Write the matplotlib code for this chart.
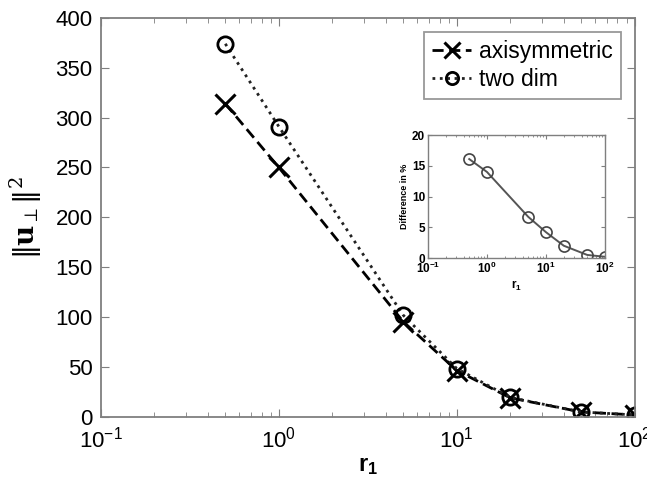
import matplotlib
matplotlib.use("Agg")
import matplotlib.pyplot as plt
from matplotlib.ticker import LogLocator, NullFormatter

plt.rcParams['font.family'] = ['Liberation Sans', 'DejaVu Sans']
plt.rcParams['mathtext.fontset'] = 'dejavuserif'

# Data
r1 = [0.5, 1, 5, 10, 20, 50, 100]
axisymmetric = [314, 250, 95.5, 46.5, 19.1, 4.97, 2.0]
two_dim = [374, 291, 102, 48.5, 19.5, 5.0, 2.0]
diff_pct = [16.1, 14.0, 6.7, 4.2, 2.0, 0.5, 0.2]

spine_col = '#7f7f7f'

fig = plt.figure(figsize=(6.47, 4.82), dpi=100)
ax = fig.add_axes([0.156, 0.135, 0.825, 0.828])

ax.plot(r1, axisymmetric, linestyle='--', dashes=(4, 2), color='black', lw=2,
        marker='x', markersize=14, markeredgewidth=2.2, label='axisymmetric')
ax.plot(r1, two_dim, linestyle=':', color='#222222', lw=2,
        marker='o', markersize=11, markerfacecolor='none', markeredgewidth=2,
        markeredgecolor='black', label='two dim')

ax.set_xscale('log')
ax.set_xlim(0.1, 100)
ax.set_ylim(0, 400)
ax.set_yticks(range(0, 401, 50))
ax.xaxis.set_major_locator(LogLocator(base=10, numticks=10))
ax.xaxis.set_minor_locator(LogLocator(base=10, subs=range(2, 10), numticks=10))
ax.xaxis.set_minor_formatter(NullFormatter())

for s in ax.spines.values():
    s.set_color(spine_col)
    s.set_linewidth(1.3)
ax.tick_params(which='both', direction='in', top=True, right=True,
               color=spine_col, labelsize=16, labelcolor='black', pad=6)
ax.tick_params(axis='x', pad=7)
ax.tick_params(which='major', length=6)
ax.tick_params(which='minor', length=3.5)

ax.set_xlabel(r'$\mathregular{r_1}$', fontsize=17, fontweight='bold', labelpad=1)
ax.set_ylabel(r'$\Vert\mathbf{u}_{\perp}\Vert^{2}$', fontsize=20, labelpad=8)

leg = ax.legend(loc='upper right', fontsize=16.5, frameon=True, fancybox=False,
                handlelength=1.7, borderpad=0.35, labelspacing=0.25,
                handletextpad=0.35, borderaxespad=0.6, markerscale=0.8)
leg.get_frame().set_edgecolor(spine_col)
leg.get_frame().set_linewidth(1.3)

# Inset: relative difference between the two models
ins = fig.add_axes([0.6615, 0.4647, 0.2736, 0.255])
ins.plot(r1, diff_pct, color='#555555', lw=1.4, marker='o', markersize=8,
         markerfacecolor='none', markeredgecolor='#444444', markeredgewidth=1.2)
ins.set_xscale('log')
ins.set_xlim(0.1, 100)
ins.set_ylim(0, 20)
ins.set_yticks(range(0, 21, 5))
ins.xaxis.set_major_locator(LogLocator(base=10, numticks=10))
ins.xaxis.set_minor_locator(LogLocator(base=10, subs=range(2, 10), numticks=10))
ins.xaxis.set_minor_formatter(NullFormatter())
for s in ins.spines.values():
    s.set_color(spine_col)
    s.set_linewidth(1.0)
ins.tick_params(which='both', direction='in', top=True, right=True,
                color=spine_col, labelsize=8.5, pad=2)
ins.tick_params(which='major', length=3)
ins.tick_params(which='minor', length=1.5)
for lab in ins.get_xticklabels() + ins.get_yticklabels():
    lab.set_fontweight('bold')
ins.set_xlabel(r'$\mathregular{r_1}$', fontsize=8.5, fontweight='bold', labelpad=2)
ins.set_ylabel('Difference in %', fontsize=6.5, fontweight='bold', labelpad=2)

fig.savefig('out.png', dpi=100)
